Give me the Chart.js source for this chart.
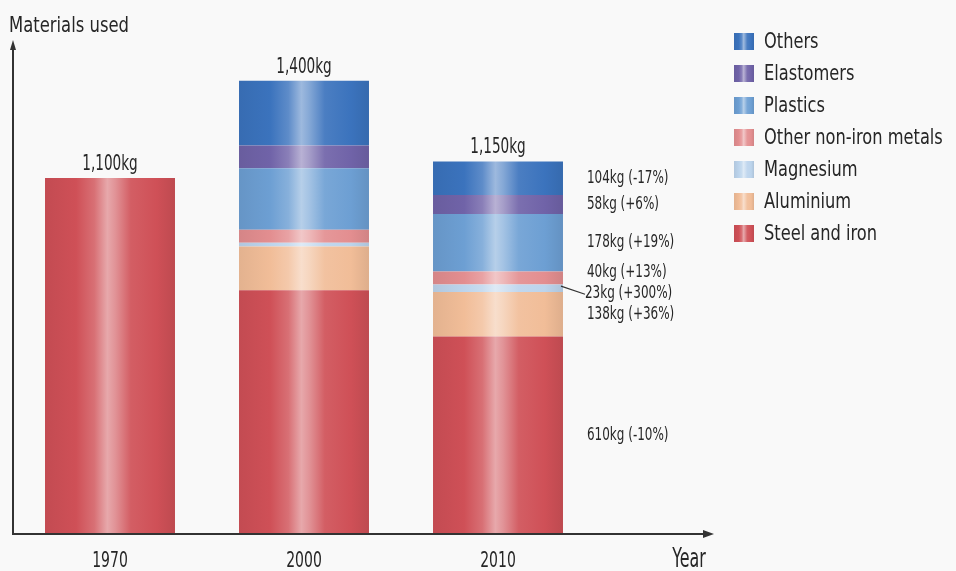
<!DOCTYPE html>
<html>
<head>
<meta charset="utf-8">
<title>Materials used</title>
<script src="https://cdn.jsdelivr.net/npm/chart.js@4.4.1/dist/chart.umd.min.js"></script>
<style>
  html, body { margin: 0; padding: 0; background: #f9f9f9; }
  #wrap { width: 956px; height: 571px; position: relative; }
</style>
</head>
<body>
<div id="wrap"><canvas id="materialsChart"></canvas></div>
<script>
// Vehicle weight by material, kg
const years = ['1970', '2000', '2010'];
const materials = ['Steel and iron', 'Aluminium', 'Magnesium', 'Other non-iron metals', 'Plastics', 'Elastomers', 'Others'];
const steel = [1100, 753, 610];
const aluminium = [0, 135, 138];
const magnesium = [0, 12, 23];
const otherMetals = [0, 40, 40];
const plastics = [0, 190, 178];
const elastomers = [0, 70, 58];
const others = [0, 200, 104];
const totalLabels = ['1,100kg', '1,400kg', '1,150kg'];
const labels2010 = ['610kg (-10%)', '138kg (+36%)', '23kg (+300%)', '40kg (+13%)', '178kg (+19%)', '58kg (+6%)', '104kg (-17%)'];
const baseColors = ['#cf5057', '#f1bd98', '#bcd4ec', '#e38e90', '#6d9fd3', '#7063a8', '#3b73bd'];

const series = [steel, aluminium, magnesium, otherMetals, plastics, elastomers, others];
const FONT = '"Liberation Sans Narrow", "DejaVu Sans Condensed", "Arial Narrow", sans-serif';
const TEXT = '#262626';
const barPct = 0.67;

function mix(hex, target, t) {
    const n = parseInt(hex.slice(1), 16);
    const c = [n >> 16, (n >> 8) & 255, n & 255].map(v => Math.round(v + (target - v) * t));
    return 'rgb(' + c.join(',') + ')';
}

// glossy cylinder look: light streak near the centre, darker edges
function shine(ctx, x0, x1, hex) {
    const g = ctx.createLinearGradient(x0, 0, x1, 0);
    g.addColorStop(0, mix(hex, 0, 0.06));
    g.addColorStop(0.24, hex);
    g.addColorStop(0.38, mix(hex, 255, 0.18));
    g.addColorStop(0.48, mix(hex, 255, 0.5));
    g.addColorStop(0.54, mix(hex, 255, 0.38));
    g.addColorStop(0.66, mix(hex, 255, 0.08));
    g.addColorStop(0.86, hex);
    g.addColorStop(1, mix(hex, 0, 0.08));
    return g;
}

function barFill(i) {
    return ctx => {
        const chart = ctx.chart;
        const x = chart.scales.x;
        if (!chart.chartArea || !x || ctx.dataIndex === undefined) return baseColors[i];
        const cx = x.getPixelForValue(ctx.dataIndex);
        const half = (x.width / years.length) * barPct / 2;
        if (!isFinite(cx) || !isFinite(half) || half <= 0) return baseColors[i];
        return shine(chart.ctx, cx - half, cx + half, baseColors[i]);
    };
}

// squeeze text horizontally, the lettering is a tall condensed face
function narrow(ctx, text, x, y, sx) {
    ctx.save();
    ctx.translate(x, y);
    ctx.scale(sx, 1);
    ctx.fillText(text, 0, 0);
    ctx.restore();
}

const decor = {
    id: 'decor',
    afterDatasetsDraw(chart) {
        const ctx = chart.ctx;
        const area = chart.chartArea;
        const xScale = chart.scales.x;
        const yScale = chart.scales.y;
        ctx.save();

        // axes with arrow heads
        ctx.strokeStyle = '#333';
        ctx.fillStyle = '#333';
        ctx.lineWidth = 2;
        ctx.beginPath();
        ctx.moveTo(area.left, area.bottom + 1);
        ctx.lineTo(area.left, area.top + 4);
        ctx.moveTo(area.left - 1, area.bottom);
        ctx.lineTo(706, area.bottom);
        ctx.stroke();
        ctx.beginPath();
        ctx.moveTo(area.left, area.top - 2);
        ctx.lineTo(area.left - 3, area.top + 8);
        ctx.lineTo(area.left + 3, area.top + 8);
        ctx.fill();
        ctx.beginPath();
        ctx.moveTo(714, area.bottom);
        ctx.lineTo(703, area.bottom - 4);
        ctx.lineTo(703, area.bottom + 4);
        ctx.fill();

        ctx.fillStyle = TEXT;
        ctx.textBaseline = 'alphabetic';
        ctx.font = '22px ' + FONT;
        ctx.textAlign = 'left';
        narrow(ctx, 'Materials used', 9, 32, 0.83);
        ctx.textAlign = 'center';
        ctx.font = '26px ' + FONT;
        narrow(ctx, 'Year', 689, 567, 0.68);

        // category labels under each bar
        ctx.font = '21px ' + FONT;
        xScale.getLabels().forEach((lab, i) => {
            narrow(ctx, lab, xScale.getPixelForValue(i), 567, 0.74);
        });

        // stack totals
        years.forEach((yr, i) => {
            const sum = series.reduce((s, arr) => s + arr[i], 0);
            narrow(ctx, totalLabels[i], xScale.getPixelForValue(i), yScale.getPixelForValue(sum) - 8, 0.72);
        });

        // 2010 breakdown, nudged apart where segments are thin
        ctx.font = '18px ' + FONT;
        ctx.textAlign = 'left';
        ctx.textBaseline = 'middle';
        let prev = Infinity;
        series.forEach((arr, d) => {
            const el = chart.getDatasetMeta(d).data[2];
            const mid = (el.y + el.base) / 2;
            const right = el.x + el.width / 2;
            const want = d === 2 ? mid + 10 : mid;
            const ly = Math.min(want, prev - 21);
            prev = ly;
            if (d === 2) {
                ctx.lineWidth = 1.2;
                ctx.beginPath();
                ctx.moveTo(right - 2, mid - 2);
                ctx.lineTo(right + 22, ly + 1);
                ctx.stroke();
                narrow(ctx, labels2010[d], right + 22, ly, 0.74);
            } else {
                narrow(ctx, labels2010[d], right + 24, ly, 0.74);
            }
        });

        // legend, top item first
        ctx.font = '22px ' + FONT;
        for (let k = 0; k < materials.length; k++) {
            const d = materials.length - 1 - k;
            const cy = 41 + k * 32;
            ctx.fillStyle = shine(ctx, 734, 754, baseColors[d]);
            ctx.fillRect(734, cy - 8, 20, 17);
            ctx.fillStyle = TEXT;
            narrow(ctx, materials[d], 764, cy + 1, 0.82);
        }
        ctx.restore();
    }
};

Chart.defaults.font.family = FONT;

new Chart(document.getElementById('materialsChart'), {
    type: 'bar',
    data: {
        labels: years,
        datasets: series.map((arr, i) => ({
            label: materials[i],
            data: arr,
            backgroundColor: barFill(i),
            borderWidth: 0,
            categoryPercentage: 1,
            barPercentage: barPct
        }))
    },
    options: {
        responsive: true,
        maintainAspectRatio: false,
        animation: false,
        layout: { padding: { left: 13, right: 361, top: 42, bottom: 0 } },
        plugins: {
            legend: { display: false },
            tooltip: { enabled: false }
        },
        scales: {
            x: {
                stacked: true,
                grid: { display: false, drawTicks: false },
                border: { display: false },
                ticks: { display: false },
                afterFit: s => { s.height = 37; }
            },
            y: {
                stacked: true,
                display: false,
                min: 0,
                max: 1520
            }
        }
    },
    plugins: [decor]
});
</script>
</body>
</html>
